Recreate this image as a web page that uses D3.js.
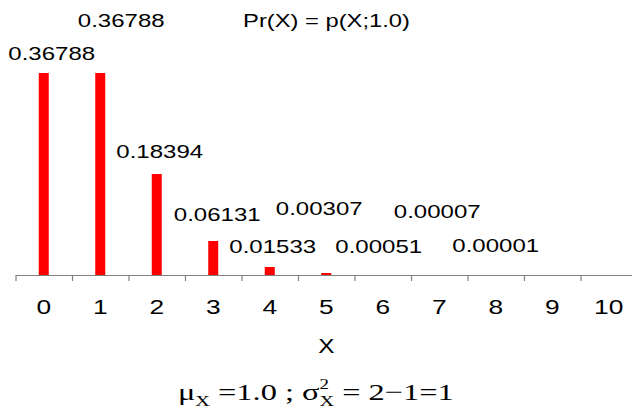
<!DOCTYPE html>
<html>
<head>
<meta charset="utf-8">
<script src="https://cdn.jsdelivr.net/npm/d3@7"></script>
<style>
  html, body { margin: 0; padding: 0; background: #fff; }
  svg { display: block; }
  text { font-family: "Liberation Sans", Arial, sans-serif; fill: #000; }
  text.serif, .serif tspan { font-family: "Liberation Serif", "Times New Roman", serif; }
</style>
</head>
<body>
<svg id="chart" width="632" height="412"></svg>
<script>
// ---- data ----
const categories = ["0", "1", "2", "3", "4", "5", "6", "7", "8", "9", "10"];
const probs = [0.36788, 0.36788, 0.18394, 0.06131, 0.01533, 0.00307, 0.00051, 0.00007, 0.00001, 0.000001, 0.0000001];
const labelledCount = 9; // values shown as labels (0..8)
const title = "Pr(X) = p(X;1.0)";
const xTitle = "X";

// ---- layout (label placement relative to bar) ----
const labelDx = [8, 21, 3, 4, 3, -7, -4, -2, 0];
const labelDy = [-13, -46, -16, -20, -14, -58, -22, -57, -23];

const SX = 1.35; // horizontal stretch of the original rendering
const svg = d3.select("#chart");

const left = 15.5, right = 637, base = 275;
const x = d3.scaleBand().domain(categories).range([left, right]).padding(0);
const xb = d3.scaleLinear().domain([0, categories.length]).range([left, right]);
const y = d3.scaleLinear().domain([0, 0.4]).range([base, base - 0.4 * 549]);
const barW = 10;

// bars
svg.append("g").selectAll("rect")
  .data(probs)
  .join("rect")
  .attr("x", (d, i) => x(categories[i]) + x.bandwidth() / 2 - barW / 2)
  .attr("y", d => base - Math.round(y(0) - y(d)))
  .attr("width", barW)
  .attr("height", d => Math.round(y(0) - y(d)))
  .attr("fill", "#ff0000");

// axis line + boundary ticks
const axisTicks = svg.append("g")
  .attr("transform", `translate(0,${base})`)
  .call(d3.axisBottom(xb).tickValues(d3.range(0, categories.length + 1)).tickFormat("").tickSize(6).tickSizeOuter(0));
axisTicks.select(".domain").attr("stroke", "#808080").attr("stroke-width", 1.2);
axisTicks.selectAll(".tick line").attr("stroke", "#808080").attr("stroke-width", 1.2);

// category labels
const axisLabels = svg.append("g")
  .attr("transform", `translate(0,${base})`)
  .call(d3.axisBottom(x).tickSize(0));
axisLabels.select(".domain").remove();
axisLabels.selectAll(".tick text")
  .attr("y", 39).attr("dy", 0)
  .attr("font-size", 19.5)
  .attr("font-family", "Liberation Sans, Arial, sans-serif")
  .attr("fill", "#000")
  .attr("transform", `scale(${SX},1)`);

// value labels
const fmt = d3.format(".5f");
svg.append("g").selectAll("text")
  .data(probs.slice(0, labelledCount))
  .join("text")
  .attr("text-anchor", "middle")
  .attr("font-size", 17.8)
  .attr("transform", (d, i) => {
    const cx = x(categories[i]) + x.bandwidth() / 2 + labelDx[i];
    const cy = y(d) + labelDy[i];
    return `translate(${cx},${cy}) scale(${SX},1)`;
  })
  .text(d => fmt(d));

// title
svg.append("text")
  .attr("text-anchor", "middle")
  .attr("font-size", 17.6)
  .attr("transform", `translate(326.5,27) scale(${SX},1)`)
  .text(title);

// x axis title
svg.append("text")
  .attr("text-anchor", "middle")
  .attr("font-size", 20)
  .attr("transform", `translate(${(left + right) / 2},353) scale(${SX * 0.9},1)`)
  .text(xTitle);

// formula: μX = 1.0 ; σX² = 2−1=1
const ft = svg.append("text")
  .attr("class", "serif")
  .attr("font-size", 24)
  .attr("transform", `translate(178,400) scale(${SX},1)`);
ft.append("tspan").text("\u03BC");
ft.append("tspan").attr("font-size", 15).attr("dy", 6).text("X");
ft.append("tspan").attr("dy", -6).text(" =1.0 ; \u03C3");
ft.append("tspan").attr("font-size", 14).attr("dy", -11).text("2");
ft.append("tspan").attr("font-size", 15).attr("dx", -7).attr("dy", 17).text("X");
ft.append("tspan").attr("dy", -6).text(" = 2\u22121=1");
</script>
</body>
</html>
